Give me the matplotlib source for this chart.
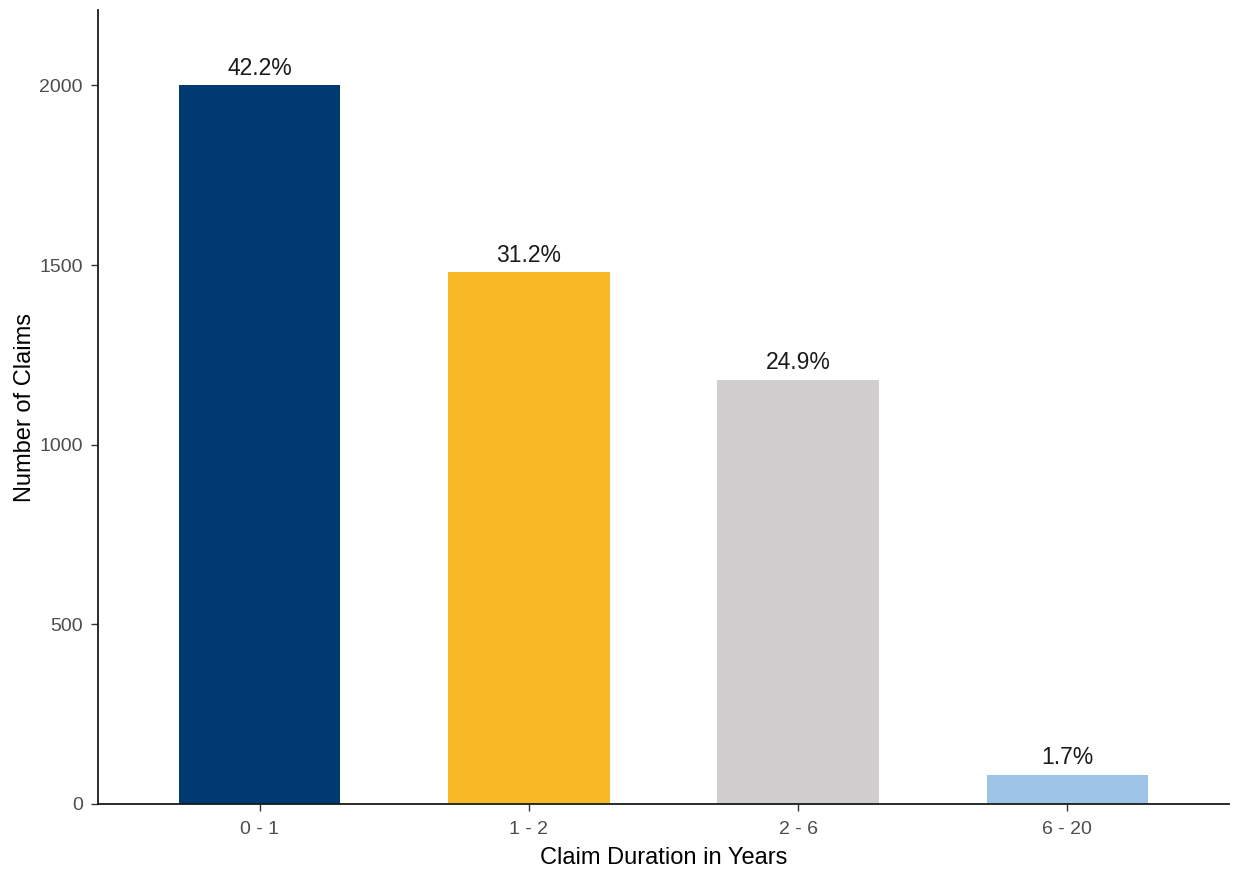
import matplotlib
matplotlib.use("Agg")
import matplotlib.pyplot as plt

categories = ["0 - 1", "1 - 2", "2 - 6", "6 - 20"]
claims = [2000, 1480, 1180, 81]
pct_labels = ["42.2%", "31.2%", "24.9%", "1.7%"]
colors = ["#003A70", "#F9B826", "#D0CECE", "#9DC3E6"]
yticks = [0, 500, 1000, 1500, 2000]

plt.rcParams['font.family'] = ['Liberation Sans', 'DejaVu Sans']

fig = plt.figure(figsize=(12.35, 8.69), dpi=100)
ax = fig.add_axes([98/1235, 1 - 804/869, (1229-98)/1235, (804-10)/869])

x = list(range(len(categories)))
bars = ax.bar(x, claims, width=0.6, color=colors)
for xi, v, lab in zip(x, claims, pct_labels):
    ax.annotate(lab, (xi, v), xytext=(0, 4), textcoords="offset points",
                ha="center", va="bottom", fontsize=16.5, color="#1a1a1a")

ax.set_xlim(-0.6, 3.6)
ax.set_ylim(0, 2210)
ax.set_xticks(x)
ax.set_xticklabels(categories)
ax.set_yticks(yticks)
ax.tick_params(axis="both", labelsize=14, labelcolor="#4D4D4D", color="#333333",
               length=5, width=1.0)
ax.tick_params(axis="x", pad=7)
ax.tick_params(axis="y", pad=6)
for s in ["top", "right"]:
    ax.spines[s].set_visible(False)
for s in ["left", "bottom"]:
    ax.spines[s].set_linewidth(1.3)
    ax.spines[s].set_color("#1a1a1a")

ax.set_xlabel("Claim Duration in Years", fontsize=17, color="#000000", labelpad=7)
ax.set_ylabel("Number of Claims", fontsize=17, color="#000000", labelpad=2)

fig.savefig("out.png", dpi=100)
